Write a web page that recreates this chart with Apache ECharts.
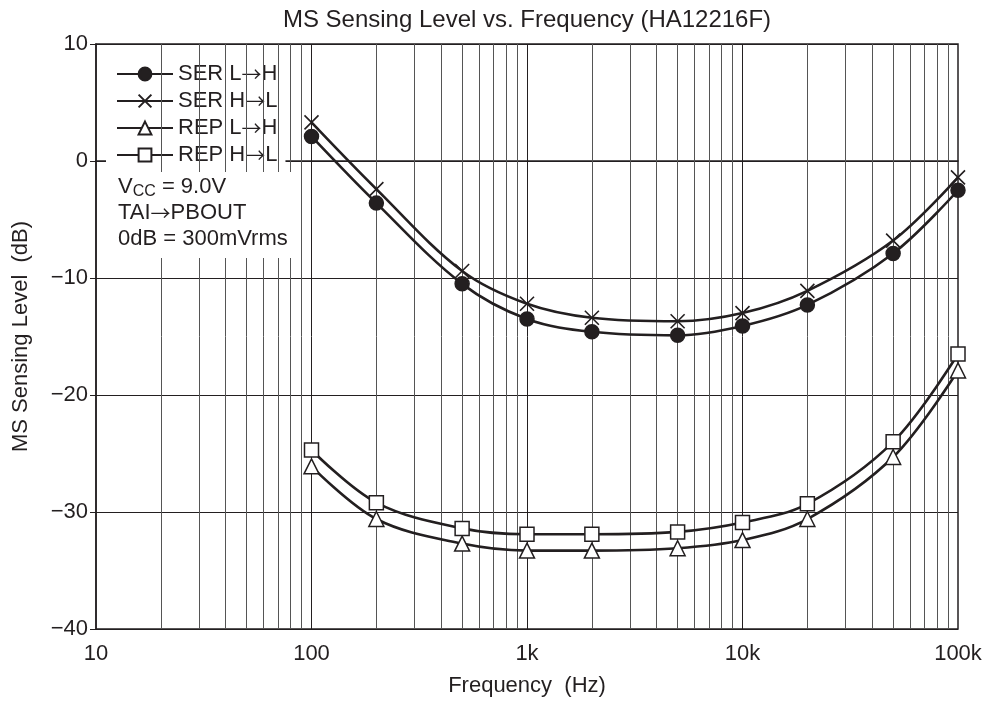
<!DOCTYPE html>
<html><head><meta charset="utf-8">
<script src="https://cdn.jsdelivr.net/npm/echarts@6/dist/echarts.min.js"></script>
<style>html,body{margin:0;padding:0;background:#fff}#c{width:988px;height:702px}</style>
</head><body><div id="c"></div>
<script>
const freqs = [100, 200, 500, 1000, 2000, 5000, 10000, 20000, 50000, 100000];
const serLH = [2.1, -3.6, -10.5, -13.5, -14.6, -14.9, -14.1, -12.3, -7.9, -2.5];
const serHL = [3.3, -2.4, -9.4, -12.2, -13.4, -13.7, -13.0, -11.1, -6.8, -1.4];
const repLH = [-26.1, -30.6, -32.7, -33.3, -33.3, -33.1, -32.4, -30.6, -25.3, -17.9];
const repHL = [-24.7, -29.2, -31.4, -31.9, -31.9, -31.7, -30.9, -29.3, -24.0, -16.5];
const minorFreqs = [20,30,40,50,60,70,80,90,200,300,400,500,600,700,800,900,2000,3000,4000,5000,6000,7000,8000,9000,20000,30000,40000,50000,60000,70000,80000,90000];
const majorFreqs = [100, 1000, 10000];
const xTickLabels = {10:'10', 100:'100', 1000:'1k', 10000:'10k', 100000:'100k'};
const seriesNames = ['SER L\u2192H','SER H\u2192L','REP L\u2192H','REP H\u2192L'];

const FONT = 'Liberation Sans, Arial, sans-serif';
const INK = '#231f20';
const FS = 22;
const pair = arr => freqs.map((f,i)=>[f, arr[i]]);
const crossPath = 'path://M0,0L10,10M10,0L0,10';

function seriesOf(name, data, symbol, size, filled, isPath){
  return {
    name, type:'line', data, smooth:0.35, symbol, symbolSize:size,
    lineStyle:{color:INK, width:2.6},
    itemStyle: isPath ? {color:'none', borderColor:INK, borderWidth:1.6}
             : {color: filled?INK:'#fff', borderColor:INK, borderWidth:1.5},
    z:5
  };
}
const ARROW_FONT = 'Noto Sans CJK JP';
const arrowRich = {a:{fontFamily:ARROW_FONT, fontSize:20, lineHeight:22, color:INK, fill:INK}};

const chart = echarts.init(document.getElementById('c'));
chart.setOption({
  animation:false,
  backgroundColor:'#fff',
  textStyle:{fontFamily:FONT},
  title:{text:'MS Sensing Level vs. Frequency (HA12216F)', left:522, top:3, textAlign:'center',
    textStyle:{fontFamily:FONT, fontSize:24, fontWeight:'normal', color:INK}},
  grid:{left:96, right:30, top:44, bottom:72, show:true, borderColor:INK, borderWidth:1.5, backgroundColor:'transparent'},
  xAxis:{type:'log', logBase:10, min:10, max:100000,
    name:'Frequency  (Hz)', nameLocation:'middle', nameGap:46,
    nameTextStyle:{fontFamily:FONT, fontSize:FS, color:INK},
    axisLine:{lineStyle:{color:INK, width:1.5}},
    axisTick:{show:false},
    axisLabel:{fontFamily:FONT, fontSize:FS, color:INK, margin:14, formatter:v=>xTickLabels[Math.round(v)]||''},
    splitLine:{show:false}},
  yAxis:{type:'value', min:-40, max:10, interval:10,
    name:'MS Sensing Level  (dB)', nameLocation:'middle', nameGap:64,
    nameTextStyle:{fontFamily:FONT, fontSize:FS, color:INK},
    axisLine:{lineStyle:{color:INK, width:1.5}},
    axisTick:{show:true, length:6, lineStyle:{color:INK}},
    axisLabel:{fontFamily:FONT, fontSize:FS, color:INK, margin:8, formatter:v=> v<0 ? '\u2212'+Math.abs(v) : String(v)},
    splitLine:{show:true, lineStyle:{color:INK, width:1}}},
  legend:{orient:'vertical', left:106, top:59, itemWidth:56, itemHeight:16, itemGap:5,
    backgroundColor:'#fff', padding:[4,8,4,10],
    textStyle:{fontFamily:FONT, fontSize:FS, lineHeight:22, color:INK, rich:arrowRich},
    formatter: n => n.replace('\u2192','{a|\u2192}'),
    data:seriesNames},
  graphic:[{type:'text', left:106, top:172, z:100,
    style:{text:'V{s|CC} = 9.0V\nTAI{a|\u2192}PBOUT\n0dB = 300mVrms', fontFamily:FONT, fontSize:FS, fill:INK,
      lineHeight:26, backgroundColor:'#fff', padding:[2,4,6,12],
      rich:{s:{fontSize:16, verticalAlign:'bottom', padding:[9,0,0,0], fontFamily:FONT, fill:INK},
            a:{fontFamily:ARROW_FONT, fontSize:20, fill:INK}}}}],
  series:[
    {type:'line', data:[], silent:true, z:1,
      markLine:{silent:true, symbol:'none', label:{show:false}, animation:false,
        data: minorFreqs.map(f=>({xAxis:f, lineStyle:{color:'#555', width:1, type:'solid'}}))
          .concat(majorFreqs.map(f=>({xAxis:f, lineStyle:{color:INK, width:1, type:'solid'}})))}},
    seriesOf(seriesNames[0], pair(serLH), 'circle', 14, true, false),
    seriesOf(seriesNames[1], pair(serHL), crossPath, 14, false, true),
    seriesOf(seriesNames[2], pair(repLH), 'triangle', 15, false, false),
    seriesOf(seriesNames[3], pair(repHL), 'rect', 14, false, false)
  ]
});
</script></body></html>
